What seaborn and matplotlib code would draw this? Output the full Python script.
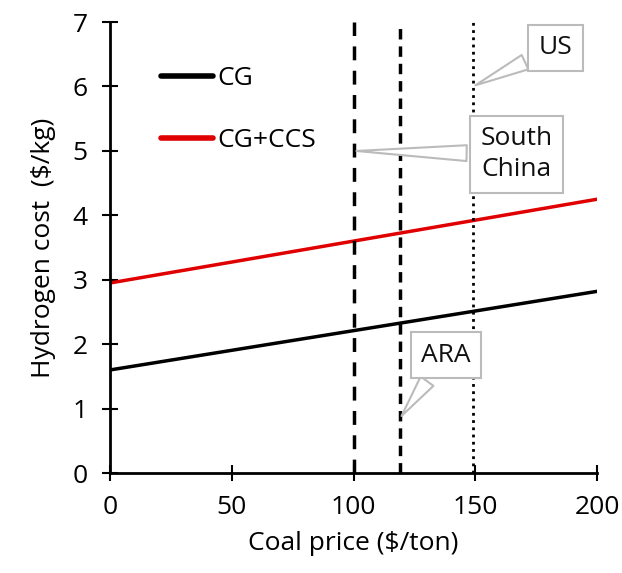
import matplotlib
matplotlib.use("Agg")
import matplotlib.pyplot as plt
import pandas as pd
import seaborn as sns

# data
coal_price = [0, 200]
cg_cost = [1.6, 2.82]
ccs_cost = [2.95, 4.25]

regions = ["South\nChina", "ARA", "US"]
region_price = [100, 119, 149]
region_style = [(0, (4, 3)), (0, (3, 2)), (0, (1, 1.6))]
label_xy = [(167, 4.95), (138, 1.83), (183, 6.6)]
tip_y = [5.0, 0.85, 6.0]

df = pd.DataFrame({
    "price": coal_price * 2,
    "cost": cg_cost + ccs_cost,
    "tech": ["CG"] * 2 + ["CG+CCS"] * 2,
})

sns.set_style("ticks")
plt.rcParams["font.family"] = ["Open Sans", "DejaVu Sans"]
plt.rcParams["text.color"] = "black"
plt.rcParams["axes.labelcolor"] = "black"

fig = plt.figure(figsize=(6.22, 5.73), dpi=100)
ax = fig.add_axes([0.177, 0.1745, 0.783, 0.787])

sns.lineplot(data=df, x="price", y="cost", hue="tech",
             palette={"CG": "black", "CG+CCS": "#e00000"}, linewidth=2.5, ax=ax)

for p, ls in zip(region_price, region_style):
    ax.axvline(p, color="black", linestyle=ls, linewidth=2.5 if ls != region_style[2] else 2)

# callout boxes
for name, p, (tx, ty), yy in zip(regions, region_price, label_xy, tip_y):
    ax.annotate(name, xy=(p, yy), xytext=(tx, ty), fontsize=19, ha="center", va="center",
                linespacing=1.3, color="#111111",
                bbox=dict(boxstyle="square,pad=0.4", fc="white", ec="#bbbbbb", lw=1.5),
                arrowprops=dict(arrowstyle="wedge,tail_width=0.6,shrink_factor=0.5",
                                fc="white", ec="#bbbbbb", lw=1.5))

ax.set_xlim(0, 200)
ax.set_ylim(0, 7)
ax.set_xticks([0, 50, 100, 150, 200])
ax.set_yticks(range(8))
ax.tick_params(direction="inout", length=12, width=1.5, labelsize=19, pad=10, colors="black")
for s in ["left", "bottom"]:
    ax.spines[s].set_linewidth(2)
    ax.spines[s].set_color("black")
sns.despine(ax=ax)
ax.set_xlabel("Coal price ($/ton)", fontsize=19, labelpad=8)
ax.set_ylabel("Hydrogen cost  ($/kg)", fontsize=19, labelpad=12)

leg = ax.legend(loc="upper left", bbox_to_anchor=(0.055, 0.955), frameon=False, fontsize=19,
                handlelength=2.0, handletextpad=0.15, labelspacing=1.4, title=None)
for h in leg.get_lines():
    h.set_linewidth(4)

fig.savefig("out.png", dpi=100)
